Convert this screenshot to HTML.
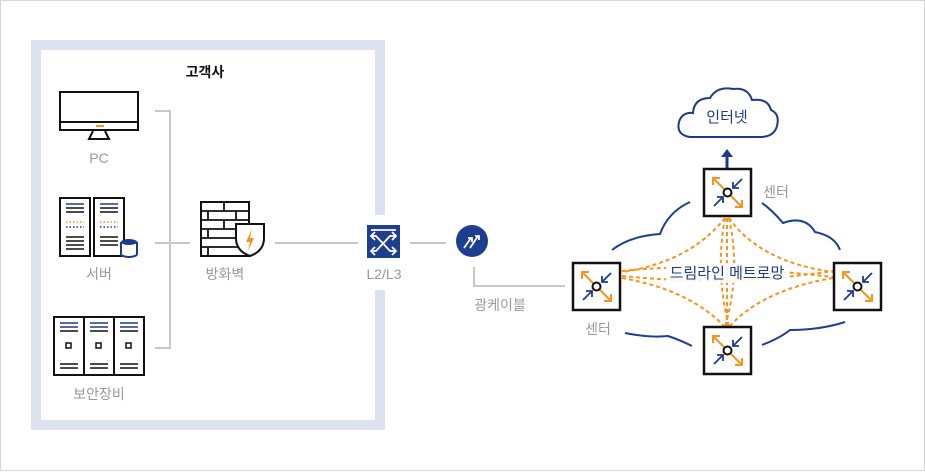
<!DOCTYPE html>
<html><head><meta charset="utf-8"><style>
html,body{margin:0;padding:0;background:#fff}
body{width:925px;height:471px;overflow:hidden;font-family:"Liberation Sans","Noto Sans CJK KR",sans-serif}
</style></head><body>
<svg width="925" height="471" viewBox="0 0 925 471" xmlns="http://www.w3.org/2000/svg" font-family="Liberation Sans, Noto Sans CJK KR, sans-serif">
<defs>
<g id="ctr">
  <rect x="1" y="1" width="47" height="47" fill="#fff" stroke="#111" stroke-width="2.5"/>
  <line x1="10" y1="10" x2="39" y2="39" stroke="#f7931e" stroke-width="2"/>
  <path d="M10 17 L10 10 L17 10 M39 32 L39 39 L32 39" fill="none" stroke="#f7931e" stroke-width="2"/>
  <circle cx="24.5" cy="24.5" r="4" fill="#fff" stroke="#111" stroke-width="2"/>
  <line x1="39" y1="11" x2="30" y2="20" stroke="#1e3a8a" stroke-width="1.8"/>
  <path d="M30 14 L30 20 L36 20" fill="none" stroke="#1e3a8a" stroke-width="1.8"/>
  <line x1="11" y1="38" x2="20" y2="29" stroke="#1e3a8a" stroke-width="1.8"/>
  <path d="M14 29 L20 29 L20 35" fill="none" stroke="#1e3a8a" stroke-width="1.8"/>
</g>
</defs>
<rect x="0.5" y="0.5" width="924" height="470" fill="#fff" stroke="#d5d5d5"/>
<!-- customer frame -->
<path d="M380 215 L380 45 L36 45 L36 425 L380 425 L380 290" fill="none" stroke="#dde3ee" stroke-width="10"/>
<text x="205" y="77" font-size="14" font-weight="bold" text-anchor="middle" fill="#111">고객사</text>
<!-- PC -->
<rect x="60" y="92" width="78" height="38" fill="#fff" stroke="#111" stroke-width="2"/>
<line x1="60" y1="122" x2="138" y2="122" stroke="#111" stroke-width="2"/>
<line x1="96" y1="126" x2="104" y2="126" stroke="#f7931e" stroke-width="2"/>
<path d="M93 131 L89 139 L109 139 L105 131" fill="none" stroke="#111" stroke-width="2"/>
<text x="99" y="163" font-size="14" text-anchor="middle" fill="#999">PC</text>
<!-- server -->
<g stroke="#111" stroke-width="2" fill="#fff">
<rect x="60" y="198" width="30" height="58"/><rect x="94" y="198" width="30" height="58"/>
</g>
<g stroke-width="1.5">
<line x1="66" y1="204" x2="84" y2="204" stroke="#1e3a8a"/><line x1="66" y1="208" x2="84" y2="208" stroke="#111"/><line x1="66" y1="212" x2="84" y2="212" stroke="#111"/>
<line x1="100" y1="204" x2="118" y2="204" stroke="#1e3a8a"/><line x1="100" y1="208" x2="118" y2="208" stroke="#111"/><line x1="100" y1="212" x2="118" y2="212" stroke="#111"/>
<line x1="66" y1="222" x2="84" y2="222" stroke="#f7931e" stroke-dasharray="1.5 2"/><line x1="66" y1="227" x2="84" y2="227" stroke="#1e3a8a" stroke-dasharray="1.5 2"/>
<line x1="100" y1="222" x2="118" y2="222" stroke="#f7931e" stroke-dasharray="1.5 2"/><line x1="100" y1="227" x2="118" y2="227" stroke="#1e3a8a" stroke-dasharray="1.5 2"/>
<g stroke="#111"><line x1="66" y1="237" x2="84" y2="237"/><line x1="66" y1="241" x2="84" y2="241"/><line x1="66" y1="245" x2="84" y2="245"/><line x1="66" y1="249" x2="84" y2="249"/>
<line x1="100" y1="237" x2="118" y2="237"/><line x1="100" y1="241" x2="118" y2="241"/><line x1="100" y1="245" x2="118" y2="245"/></g>
</g>
<path d="M121 242 v12 a8 3 0 0 0 16 0 v-12" fill="#fff" stroke="#1e3a8a" stroke-width="2"/>
<ellipse cx="129" cy="242" rx="8" ry="3" fill="#1e3a8a"/>
<text x="99" y="279" font-size="14" text-anchor="middle" fill="#999">서버</text>
<!-- security -->
<rect x="54" y="317" width="90" height="58" fill="#fff" stroke="#111" stroke-width="2"/>
<line x1="84" y1="317" x2="84" y2="375" stroke="#111" stroke-width="2"/><line x1="114" y1="317" x2="114" y2="375" stroke="#111" stroke-width="2"/>
<g stroke-width="1.5">
<line x1="60" y1="323" x2="78" y2="323" stroke="#1e3a8a"/><line x1="60" y1="327" x2="78" y2="327" stroke="#1e3a8a"/><line x1="60" y1="331" x2="78" y2="331" stroke="#111"/>
<line x1="90" y1="323" x2="108" y2="323" stroke="#1e3a8a"/><line x1="90" y1="327" x2="108" y2="327" stroke="#1e3a8a"/><line x1="90" y1="331" x2="108" y2="331" stroke="#111"/>
<line x1="120" y1="323" x2="138" y2="323" stroke="#1e3a8a"/><line x1="120" y1="327" x2="138" y2="327" stroke="#1e3a8a"/><line x1="120" y1="331" x2="138" y2="331" stroke="#111"/>
<g stroke="#111"><line x1="60" y1="364" x2="78" y2="364"/><line x1="60" y1="368" x2="78" y2="368"/><line x1="90" y1="364" x2="108" y2="364"/><line x1="90" y1="368" x2="108" y2="368"/><line x1="120" y1="364" x2="138" y2="364"/><line x1="120" y1="368" x2="138" y2="368"/></g>
</g>
<g fill="#fff" stroke="#111" stroke-width="1.5"><rect x="66" y="343" width="5" height="5"/><rect x="96" y="343" width="5" height="5"/><rect x="126" y="343" width="5" height="5"/></g>
<text x="99" y="399" font-size="14" text-anchor="middle" fill="#999">보안장비</text>
<!-- connectors -->
<g stroke="#c8c8c8" stroke-width="2" fill="none">
<path d="M155 111 H170 V348 H155"/>
<line x1="155" y1="243" x2="190" y2="243"/>
<line x1="275" y1="243" x2="358" y2="243"/>
<line x1="410" y1="243" x2="446" y2="243"/>
<path d="M474 267 V286 H565"/>
</g>
<!-- firewall -->
<g stroke="#111" stroke-width="2" fill="#fff">
<rect x="201" y="202" width="48" height="54"/>
</g>
<g stroke="#111" stroke-width="1.8">
<line x1="201" y1="211" x2="249" y2="211"/><line x1="201" y1="220" x2="249" y2="220"/><line x1="201" y1="229" x2="249" y2="229"/><line x1="201" y1="238" x2="249" y2="238"/><line x1="201" y1="247" x2="249" y2="247"/>
<line x1="224" y1="202" x2="224" y2="211"/><line x1="208" y1="211" x2="208" y2="220"/><line x1="236" y1="211" x2="236" y2="220"/><line x1="224" y1="220" x2="224" y2="229"/><line x1="208" y1="229" x2="208" y2="238"/><line x1="236" y1="229" x2="236" y2="238"/><line x1="208" y1="247" x2="208" y2="256"/>
</g>
<path d="M236 224 H264 V238 Q264 251 250 256 Q236 251 236 238 Z" fill="#fff" stroke="#111" stroke-width="2"/>
<path d="M252 229 L246 242 L250 242 L248 251 L254 238 L250 238 Z" fill="#f7931e"/>
<text x="225" y="279" font-size="14" text-anchor="middle" fill="#999">방화벽</text>
<!-- switch -->
<rect x="367" y="225" width="33" height="33" fill="#1e3f8f"/>
<g stroke="#fff" stroke-width="1.8" fill="none">
<line x1="371" y1="230" x2="396" y2="230"/>
<path d="M371 236 H376 L390 251 H396 M371 251 H376 L390 236 H396"/>
<path d="M392 232 L396 236 L392 240 M392 247 L396 251 L392 255 M375 232 L371 236 L375 240 M375 247 L371 251 L375 255"/>
</g>
<text x="384" y="279" font-size="14" text-anchor="middle" fill="#999">L2/L3</text>
<!-- optical -->
<circle cx="472" cy="241" r="16" fill="#1e3f8f"/>
<g stroke="#fff" stroke-width="1.8" fill="none">
<path d="M464 248 L471 238 M470 248 L478 236 M468 238 H472 V242 M475 236 H479 V240"/>
</g>
<text x="500" y="310" font-size="14" text-anchor="middle" fill="#999">광케이블</text>
<!-- internet cloud -->
<path d="M690 137 Q676 135 679 122 Q682 112 693 113 Q694 98 710 98 Q717 86 733 89 Q748 87 752 100 Q768 98 771 110 Q780 114 777 126 Q774 137 760 137 Z" fill="#fff" stroke="#1e3a8a" stroke-width="2"/>
<text x="727" y="122" font-size="15" text-anchor="middle" fill="#1e3a8a">인터넷</text>
<line x1="727" y1="168" x2="727" y2="156" stroke="#1e3a8a" stroke-width="3"/>
<path d="M721 157 L727 149 L733 157 Z" fill="#1e3a8a"/>
<!-- big cloud -->
<g stroke="#1e3f8f" stroke-width="2" fill="none">
<path d="M612 250 Q630 236 660 234 Q668 212 690 202"/>
<path d="M762 203 Q772 210 783 223 Q805 215 815 232 Q835 236 840 250"/>
<path d="M625 333 Q650 338 668 336 Q680 340 692 346"/>
<path d="M762 345 Q780 338 790 330 Q820 330 845 322"/>
</g>
<!-- dashed -->
<g stroke="#f7931e" stroke-width="2" fill="none" stroke-dasharray="4 3">
<path d="M727 218 L727 327"/>
<path d="M725 218 Q715 272 729 327"/>
<path d="M729 218 Q741 272 725 327"/>
<path d="M725 218 Q690 262 622 272"/>
<path d="M729 218 Q760 262 833 272"/>
<path d="M622 278 Q690 290 725 327"/>
<path d="M833 278 Q762 290 729 327"/>
<path d="M622 271 Q700 262 833 277"/>
<path d="M622 276 Q730 287 833 271"/>
</g>
<rect x="666" y="263" width="122" height="20" fill="#fff" opacity="0.85"/>
<text x="727" y="278" font-size="15" text-anchor="middle" fill="#1e3a8a">드림라인 메트로망</text>
<!-- centers -->
<use href="#ctr" x="703" y="168"/>
<use href="#ctr" x="572" y="262"/>
<use href="#ctr" x="833" y="262"/>
<use href="#ctr" x="703" y="326"/>
<text x="776" y="197" font-size="14" text-anchor="middle" fill="#999">센터</text>
<text x="598" y="334" font-size="14" text-anchor="middle" fill="#999">센터</text>
</svg>
</body></html>
